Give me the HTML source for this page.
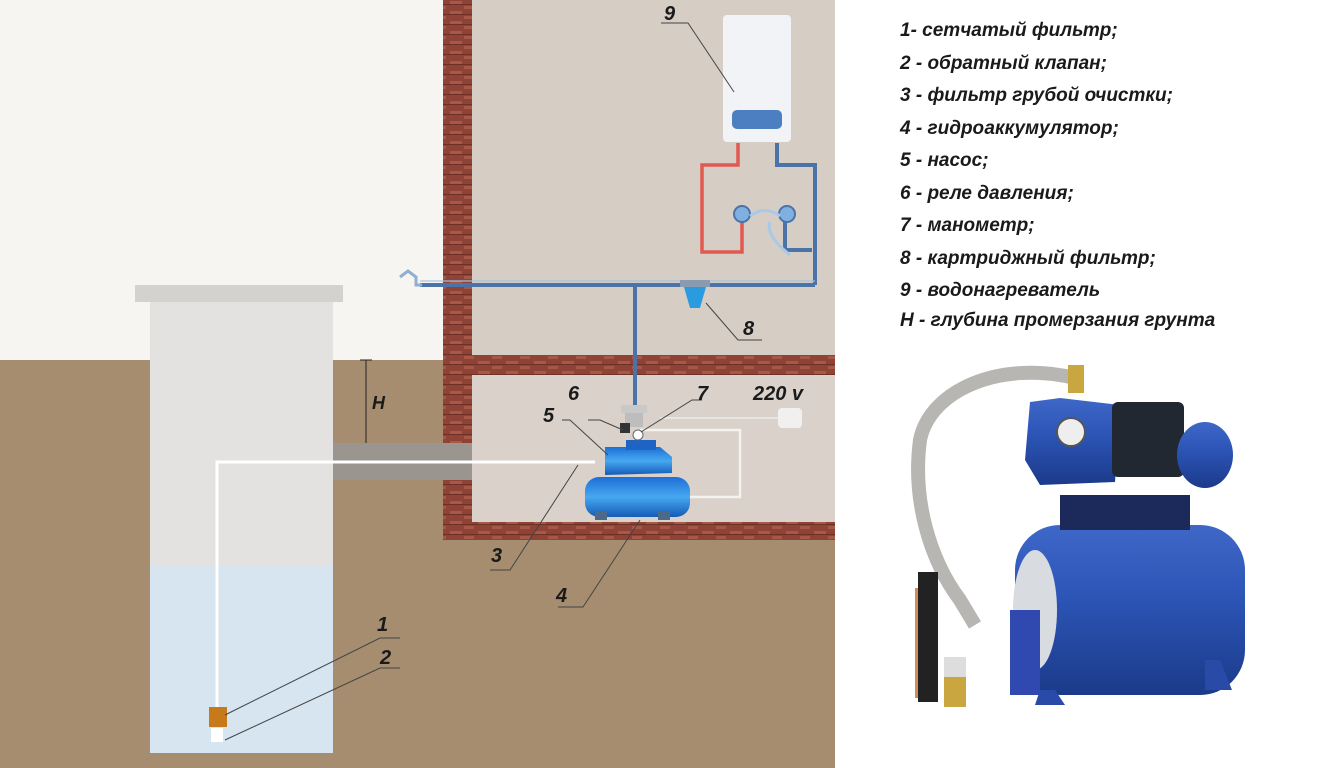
<!DOCTYPE html>
<html><head><meta charset="utf-8"><style>
html,body{margin:0;padding:0;background:#fff}
svg{display:block}
text{font-family:"Liberation Sans","DejaVu Sans",sans-serif;font-style:italic;font-weight:bold;fill:#1a1a1a}
</style></head><body>
<svg width="1320" height="768" viewBox="0 0 1320 768" xmlns="http://www.w3.org/2000/svg">
<defs>
<pattern id="brick" width="28" height="10" patternUnits="userSpaceOnUse">
<rect width="28" height="10" fill="#8e4336"/>
<rect x="2" y="1" width="12" height="3" fill="#a85846"/>
<rect x="16" y="6" width="10" height="3" fill="#a65745"/>
<rect x="0" y="4" width="28" height="1" fill="#6e3027"/>
</pattern>
<linearGradient id="blu" x1="0" y1="0" x2="0" y2="1"><stop offset="0" stop-color="#3e67c8"/><stop offset="0.4" stop-color="#2d56b8"/><stop offset="1" stop-color="#1b3a8a"/></linearGradient>
<linearGradient id="pb" x1="0" y1="0" x2="0" y2="1"><stop offset="0" stop-color="#1d6fd6"/><stop offset="0.5" stop-color="#47a8f0"/><stop offset="1" stop-color="#145bb8"/></linearGradient>
</defs>
<!-- backgrounds -->
<rect x="0" y="0" width="835" height="768" fill="#f7f5f2"/>
<rect x="0" y="360" width="835" height="408" fill="#a68d6f"/>
<!-- room -->
<rect x="472" y="0" width="363" height="355" fill="#d6cdc5"/>
<rect x="472" y="375" width="363" height="147" fill="#d9d1ca"/>
<!-- bricks -->
<rect x="443" y="0" width="29" height="443" fill="url(#brick)"/>
<rect x="443" y="480" width="29" height="60" fill="url(#brick)"/>
<rect x="443" y="355" width="392" height="20" fill="url(#brick)"/>
<rect x="443" y="522" width="392" height="18" fill="url(#brick)"/>
<!-- sleeve -->
<rect x="333" y="443" width="139" height="37" fill="#9b9590"/>
<!-- well -->
<rect x="150" y="302" width="183" height="263" fill="#e4e2e0"/>
<rect x="150" y="565" width="183" height="188" fill="#d6e5f0"/>
<rect x="135" y="285" width="208" height="17" fill="#d4d2cf"/>
<!-- H -->
<line x1="366" y1="360" x2="366" y2="443" stroke="#222" stroke-width="1"/>
<line x1="360" y1="360" x2="372" y2="360" stroke="#222"/>
<text x="372" y="409" font-size="18">H</text>
<!-- suction pipe -->
<polyline points="217,710 217,462 595,462" fill="none" stroke="#fff" stroke-width="3"/>
<rect x="209" y="707" width="18" height="20" fill="#c77a1a"/>
<rect x="211" y="728" width="12" height="14" fill="#fff"/>
<!-- electrical -->
<polyline points="640,430 740,430 740,497 690,497" fill="none" stroke="#f4f2ef" stroke-width="2.5"/>
<rect x="778" y="408" width="24" height="20" rx="4" fill="#f2f0ee"/>
<line x1="660" y1="418" x2="778" y2="418" stroke="#e8e6e2" stroke-width="2"/>
<!-- pump -->
<rect x="585" y="477" width="105" height="40" rx="14" fill="url(#pb)"/>
<rect x="595" y="512" width="12" height="8" fill="#4b6a8a"/>
<rect x="658" y="512" width="12" height="8" fill="#4b6a8a"/>
<path d="M605 447 L660 447 L672 457 L672 473 L605 475 Z" fill="url(#pb)"/>
<rect x="626" y="440" width="30" height="10" fill="#1f63c4"/>
<rect x="625" y="405" width="18" height="22" fill="#bdbdbd"/>
<rect x="621" y="405" width="26" height="8" fill="#c9c9c9"/>
<rect x="620" y="423" width="10" height="10" fill="#333"/>
<circle cx="638" cy="435" r="5" fill="#fff" stroke="#666"/>
<!-- blue supply pipes -->
<g fill="none" stroke="#4b73a8" stroke-width="4">
<line x1="635" y1="285" x2="635" y2="405"/>
<line x1="420" y1="285" x2="815" y2="285"/>
<polyline points="777,143 777,165 815,165 815,285"/>
<polyline points="785,250 812,250"/>
<line x1="785" y1="215" x2="785" y2="250"/>
</g>
<g fill="none" stroke="#9fc3e8" stroke-width="1.5" opacity="0.8">
<line x1="420" y1="281" x2="815" y2="281"/>
</g>
<path d="M400 277 l8 -6 l8 6 l0 8 l6 0" fill="none" stroke="#8fb0d0" stroke-width="3"/>
<!-- red pipe -->
<polyline points="738,143 738,165 702,165 702,252 742,252 742,220" fill="none" stroke="#e05a50" stroke-width="3.5"/>
<circle cx="742" cy="214" r="8" fill="#7fb0e0" stroke="#4b73a8" stroke-width="2"/>
<circle cx="787" cy="214" r="8" fill="#7fb0e0" stroke="#4b73a8" stroke-width="2"/>
<path d="M750 216 Q765 205 780 216 M770 222 Q765 235 790 255" fill="none" stroke="#a9c9e8" stroke-width="3"/>
<!-- filter 8 -->
<rect x="680" y="280" width="30" height="7" fill="#8a9bb0"/>
<path d="M684 287 L706 287 L700 308 L690 308 Z" fill="#2b9be0"/>
<!-- heater -->
<rect x="723" y="15" width="68" height="127" rx="4" fill="#f1f3f6"/>
<rect x="732" y="110" width="50" height="19" rx="5" fill="#4b7fc2"/>
<!-- leader lines -->
<g stroke="#444" stroke-width="1" fill="none">
<polyline points="661,23 688,23 734,92"/>
<polyline points="762,340 738,340 706,303"/>
<polyline points="588,420 600,420 623,430"/>
<polyline points="702,400 692,400 641,432"/>
<polyline points="562,420 570,420 608,455"/>
<polyline points="490,570 510,570 578,465"/>
<polyline points="558,607 583,607 640,520"/>
<polyline points="400,638 380,638 225,715"/>
<polyline points="400,668 380,668 225,740"/>
</g>
<text x="664" y="20" font-size="20">9</text>
<text x="743" y="335" font-size="20">8</text>
<text x="568" y="400" font-size="20">6</text>
<text x="697" y="400" font-size="20">7</text>
<text x="543" y="422" font-size="20">5</text>
<text x="753" y="400" font-size="20">220 v</text>
<text x="491" y="562" font-size="20">3</text>
<text x="556" y="602" font-size="20">4</text>
<text x="377" y="631" font-size="20">1</text>
<text x="380" y="664" font-size="20">2</text>
<!-- legend -->
<g font-size="19">
<text x="900" y="36">1- сетчатый фильтр;</text>
<text x="900" y="69">2 - обратный клапан;</text>
<text x="900" y="101">3 - фильтр грубой очистки;</text>
<text x="900" y="134">4 - гидроаккумулятор;</text>
<text x="900" y="166">5 - насос;</text>
<text x="900" y="199">6 - реле давления;</text>
<text x="900" y="231">7 - манометр;</text>
<text x="900" y="264">8 - картриджный фильтр;</text>
<text x="900" y="296">9 - водонагреватель</text>
<text x="900" y="326">H - глубина промерзания грунта</text>
</g>
<!-- pump photo -->
<path d="M1075 378 C1000 360 930 390 920 440 C912 500 930 560 960 600 L975 625" fill="none" stroke="#b8b6b2" stroke-width="14"/>
<rect x="1068" y="365" width="16" height="28" fill="#c9a640"/>
<rect x="1015" y="525" width="230" height="170" rx="45" fill="url(#blu)"/>
<ellipse cx="1035" cy="610" rx="22" ry="60" fill="#d8dbe0"/>
<path d="M1040 690 L1055 690 L1065 705 L1035 705 Z" fill="#2a4aa8"/>
<path d="M1205 660 L1220 660 L1232 690 L1205 690 Z" fill="#2a4aa8"/>
<rect x="1060" y="495" width="130" height="35" fill="#1b2a5a"/>
<path d="M1030 402 L1060 398 L1120 405 L1115 482 L1040 485 L1025 460 Z" fill="url(#blu)"/>
<circle cx="1071" cy="432" r="14" fill="#eee" stroke="#555" stroke-width="2"/>
<rect x="1112" y="402" width="72" height="75" rx="6" fill="#222831"/>
<ellipse cx="1205" cy="455" rx="28" ry="33" fill="url(#blu)"/>
<rect x="1010" y="610" width="30" height="85" fill="#3049b0"/>
<rect x="915" y="588" width="22" height="110" fill="#d28c5a"/>
<rect x="918" y="572" width="20" height="130" fill="#222"/>
<rect x="944" y="657" width="22" height="50" fill="#c9a640"/>
<rect x="944" y="657" width="22" height="20" fill="#ddd"/>
</svg>
</body></html>
